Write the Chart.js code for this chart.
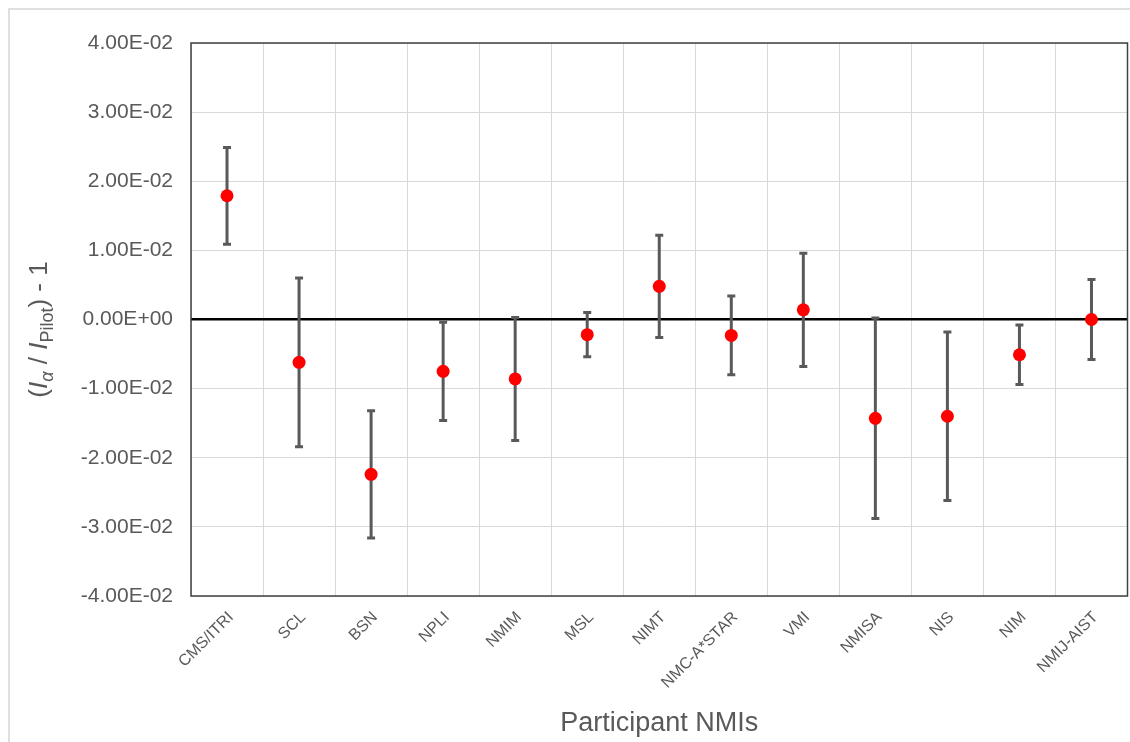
<!DOCTYPE html>
<html>
<head>
<meta charset="utf-8">
<script src="https://cdn.jsdelivr.net/npm/chart.js@4"></script>
<style>
  html, body { margin: 0; padding: 0; background: #fff; overflow: hidden; }
  #marcoPagina { width: 1130px; height: 742px; overflow: hidden; }
  #wrap { width: 1134px; height: 742px; position: relative; }
</style>
</head>
<body>
<div id="marcoPagina"><div id="wrap"><canvas id="grafico"></canvas></div></div>
<script>
// Datos
const participantes = ['CMS/ITRI', 'SCL', 'BSN', 'NPLI', 'NMIM', 'MSL', 'NIMT', 'NMC-A*STAR', 'VMI', 'NMISA', 'NIS', 'NIM', 'NMIJ-AIST'];
const desviacion = [0.0179, -0.0062, -0.0224, -0.0075, -0.0086, -0.0022, 0.0048, -0.0023, 0.0014, -0.0143, -0.0140, -0.0051, 0.0000];
const incertidumbre = [0.0070, 0.0122, 0.0092, 0.0071, 0.0089, 0.0032, 0.0074, 0.0057, 0.0082, 0.0145, 0.0122, 0.0043, 0.0058];
const yMin = -0.04;
const yMax = 0.04;
const yPaso = 0.01;

const gris = '#595959';
const fuente = '"Liberation Sans", Arial, sans-serif';

// Formato tipo Excel: 4.00E-02
function formatoCientifico(v) {
	if (Math.abs(v) < 1e-12) v = 0;
	const partes = v.toExponential(2).split('e');
	let exp = parseInt(partes[1], 10);
	const signo = exp < 0 ? '-' : '+';
	exp = Math.abs(exp);
	return partes[0] + 'E' + signo + (exp < 10 ? '0' + exp : exp);
}

// Barras de error dibujadas con las escalas del gráfico
const barrasError = {
	id: 'barrasError',
	beforeDatasetsDraw(chart) {
		const ctx = chart.ctx;
		const x = chart.scales.x;
		const y = chart.scales.y;
		ctx.save();
		ctx.strokeStyle = gris;
		ctx.lineWidth = 3;
		ctx.lineCap = 'butt';
		desviacion.forEach(function (v, i) {
			const px = x.getPixelForValue(i);
			const top = y.getPixelForValue(v + incertidumbre[i]);
			const bot = y.getPixelForValue(v - incertidumbre[i]);
			ctx.beginPath();
			ctx.moveTo(px, top);
			ctx.lineTo(px, bot);
			ctx.moveTo(px - 4, top);
			ctx.lineTo(px + 4, top);
			ctx.moveTo(px - 4, bot);
			ctx.lineTo(px + 4, bot);
			ctx.stroke();
		});
		ctx.restore();
	}
};

// Marco del área de trazado, borde exterior y título del eje Y con subíndices
const marco = {
	id: 'marco',
	beforeDraw(chart) {
		const ctx = chart.ctx;
		ctx.save();
		ctx.strokeStyle = '#e0e0e0';
		ctx.lineWidth = 2;
		ctx.beginPath();
		ctx.moveTo(9, chart.height);
		ctx.lineTo(9, 9);
		ctx.lineTo(chart.width, 9);
		ctx.stroke();
		ctx.restore();
	},
	afterDraw(chart) {
		const ctx = chart.ctx;
		const a = chart.chartArea;
		ctx.save();
		ctx.strokeStyle = '#404040';
		ctx.lineWidth = 1.5;
		ctx.strokeRect(a.left, a.top, a.right - a.left, a.bottom - a.top);

		// título eje Y: (Iα / IPilot) - 1
		const piezas = [
			{ t: '(', f: '26px ' + fuente, dy: 0 },
			{ t: 'I', f: 'italic 26px ' + fuente, dy: 0 },
			{ t: 'α', f: 'italic 18px ' + fuente, dy: 6 },
			{ t: ' / ', f: '26px ' + fuente, dy: 0 },
			{ t: 'I', f: 'italic 26px ' + fuente, dy: 0 },
			{ t: 'Pilot', f: '18px ' + fuente, dy: 6 },
			{ t: ') - 1', f: '26px ' + fuente, dy: 0 }
		];
		let total = 0;
		piezas.forEach(function (p) {
			ctx.font = p.f;
			p.w = ctx.measureText(p.t).width;
			total += p.w;
		});
		const cy = (a.top + a.bottom) / 2 + 10;
		ctx.translate(47, cy);
		ctx.rotate(-Math.PI / 2);
		ctx.fillStyle = gris;
		ctx.textBaseline = 'alphabetic';
		ctx.textAlign = 'left';
		let cx = -total / 2;
		piezas.forEach(function (p) {
			ctx.font = p.f;
			ctx.fillText(p.t, cx, p.dy);
			cx += p.w;
		});
		ctx.restore();
	}
};

const ctx = document.getElementById('grafico').getContext('2d');
const grafico = new Chart(ctx, {
	type: 'line',
	data: {
		labels: participantes,
		datasets: [
			{
				label: 'Iα / IPilot - 1',
				data: desviacion,
				showLine: false,
				pointRadius: 6.5,
				pointHoverRadius: 6.5,
				pointBackgroundColor: '#ff0000',
				pointBorderColor: '#ff0000',
				pointBorderWidth: 0
			}
		]
	},
	options: {
		responsive: true,
		maintainAspectRatio: false,
		animation: false,
		layout: {
			padding: { left: 60, right: 0, top: 43, bottom: 0 }
		},
		plugins: {
			legend: { display: false },
			tooltip: { enabled: false }
		},
		scales: {
			x: {
				offset: true,
				grid: {
					offset: true,
					color: '#d9d9d9',
					lineWidth: 1,
					drawTicks: false
				},
				border: { display: false },
				ticks: {
					autoSkip: false,
					maxRotation: 45,
					minRotation: 45,
					padding: 12,
					labelOffset: 4,
					color: gris,
					font: { family: fuente, size: 16 }
				},
				title: {
					display: true,
					text: 'Participant NMIs',
					color: gris,
					font: { family: fuente, size: 27 },
					padding: { top: 0, bottom: 2 }
				},
				afterFit(scale) {
					scale.height = 146;
				}
			},
			y: {
				min: yMin,
				max: yMax,
				border: { display: false },
				grid: {
					color: function (c) { return Math.abs(c.tick.value) < 1e-12 ? '#000000' : '#d9d9d9'; },
					lineWidth: function (c) { return Math.abs(c.tick.value) < 1e-12 ? 2.5 : 1; },
					drawTicks: false
				},
				ticks: {
					stepSize: yPaso,
					padding: 18,
					color: gris,
					font: { family: fuente, size: 21 },
					callback: function (v) { return formatoCientifico(v); }
				},
				afterFit(scale) {
					scale.width = 131;
				}
			}
		}
	},
	plugins: [barrasError, marco]
});
</script>
</body>
</html>
